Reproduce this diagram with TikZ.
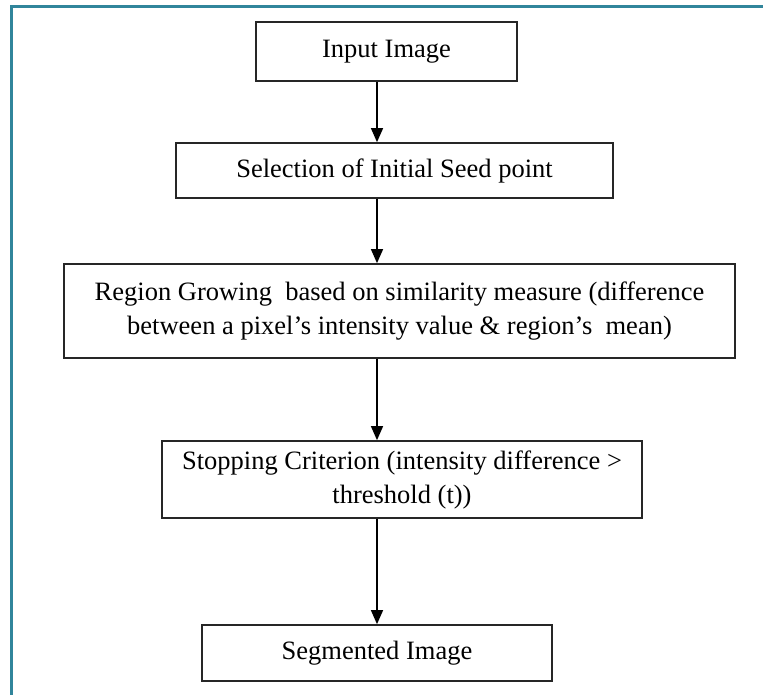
\documentclass[tikz,border=0pt]{standalone}
\usepackage{fontspec}
\setmainfont{Liberation Serif}
\usetikzlibrary{arrows.meta}
\definecolor{framecol}{RGB}{49,133,155}

\begin{document}
\begin{tikzpicture}[x=1pt, y=-1pt, thick,
    main/.style = {draw=black!85, line width=1.7pt, rectangle, align=center, inner sep=0pt,
                   font=\fontsize{26.5}{34}\selectfont},
    flow/.style = {-{Triangle[length=14pt,width=12pt]}, line width=1.3pt}]
    \useasboundingbox (0,0) rectangle (765,695);
    \draw[framecol, line width=3pt] (11,695) -- (11,7) -- (763,7);

    \node[main, minimum width=261pt, minimum height=59pt] (1) at (386.5,51.5) {Input Image};
    \node[main, minimum width=437pt, minimum height=55pt] (2) at (394.5,170.5) {Selection of Initial Seed point};
    \node[main, minimum width=671pt, minimum height=94pt] (3) at (399.5,311)
        {Region Growing\ \ based on similarity measure (difference\\between a pixel’s intensity value \& region’s\ \ mean)};
    \node[main, minimum width=480pt, minimum height=77pt] (4) at (402,479.5)
        {Stopping Criterion (intensity difference >\\threshold (t))};
    \node[main, minimum width=350pt, minimum height=56pt] (5) at (377,653) {Segmented Image};

    \draw[flow] (1.south -| 5.north) -- (2.north -| 5.north);
    \draw[flow] (2.south -| 5.north) -- (3.north -| 5.north);
    \draw[flow] (3.south -| 5.north) -- (4.north -| 5.north);
    \draw[flow] (4.south -| 5.north) -- (5.north);
\end{tikzpicture}
\end{document}
